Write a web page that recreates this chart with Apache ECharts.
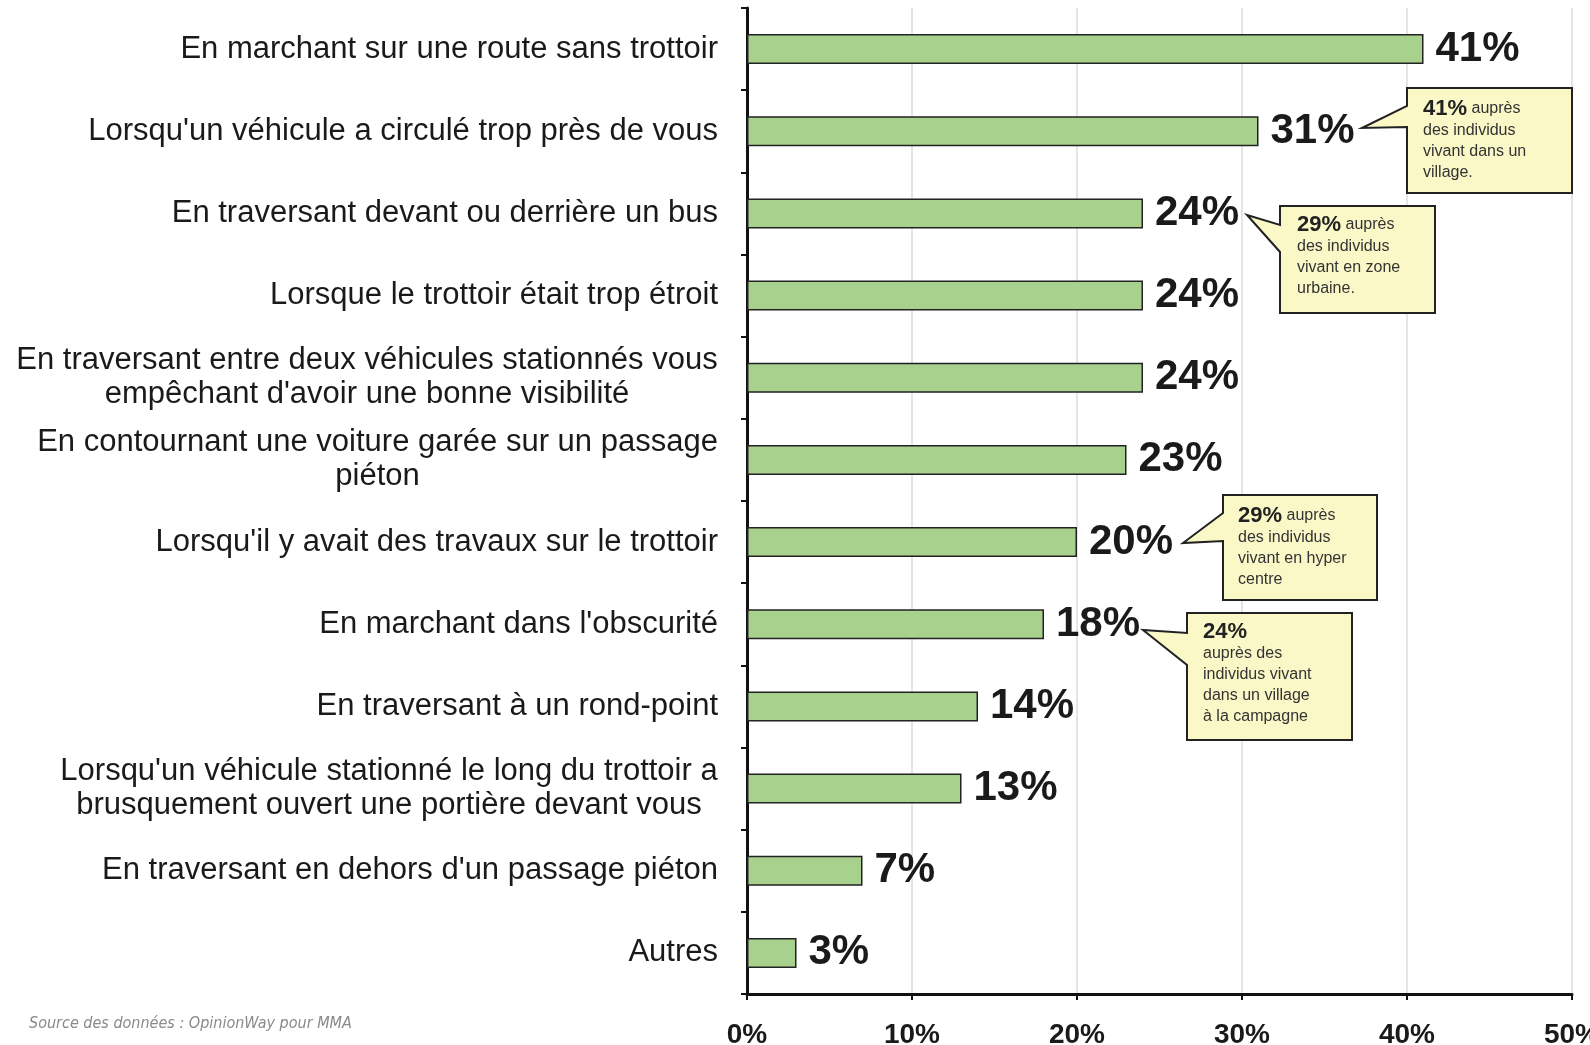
<!DOCTYPE html>
<html>
<head>
<meta charset="utf-8">
<script src="https://cdn.jsdelivr.net/npm/echarts@6/dist/echarts.min.js"></script>
<style>
  html, body { margin: 0; padding: 0; background: #fff; }
  #chart { width: 1590px; height: 1045px; }
</style>
</head>
<body>
<div id="chart"></div>
<script>
var categories = [
  'En marchant sur une route sans trottoir',
  "Lorsqu'un véhicule a circulé trop près de vous",
  'En traversant devant ou derrière un bus',
  'Lorsque le trottoir était trop étroit',
  'En traversant entre deux véhicules stationnés vous\nempêchant d\'avoir une bonne visibilité',
  'En contournant une voiture garée sur un passage\npiéton',
  "Lorsqu'il y avait des travaux sur le trottoir",
  "En marchant dans l'obscurité",
  'En traversant à un rond-point',
  "Lorsqu'un véhicule stationné le long du trottoir a\nbrusquement ouvert une portière devant vous",
  "En traversant en dehors d'un passage piéton",
  'Autres'
];
var values = [41, 31, 24, 24, 24, 23, 20, 18, 14, 13, 7, 3];
var xTicks = [0, 10, 20, 30, 40, 50];

// callouts: bold figure + remaining lines
var callouts = [
  { big: '41%', first: ' auprès', lines: ['des individus', 'vivant dans un', 'village.'],
    box: [1407, 88, 1572, 193], tip: [1362, 128], base: [106, 127], text: [1423, 98] },
  { big: '29%', first: ' auprès', lines: ['des individus', 'vivant en zone', 'urbaine.'],
    box: [1280, 206, 1435, 313], tip: [1247, 215], base: [225, 252], text: [1297, 214] },
  { big: '29%', first: ' auprès', lines: ['des individus', 'vivant en hyper', 'centre'],
    box: [1223, 495, 1377, 600], tip: [1183, 543], base: [513, 541], text: [1238, 505] },
  { big: '24%', first: '', lines: ['auprès des', 'individus vivant', 'dans un village', 'à la campagne'],
    box: [1187, 613, 1352, 740], tip: [1143, 630], base: [633, 665], text: [1203, 621] }
];

var labelFont = 'Liberation Sans, Arial, sans-serif';
var labelSize = 31;

// multi-line category labels are centred inside their own block
var ctx = document.createElement('canvas').getContext('2d');
ctx.font = labelSize + 'px ' + labelFont;
var labelRich = {};
var labelKey = {};
categories.forEach(function (c, i) {
  var parts = c.split('\n');
  if (parts.length > 1) {
    var w = 0;
    parts.forEach(function (p) { w = Math.max(w, ctx.measureText(p).width); });
    labelRich['c' + i] = { width: Math.ceil(w), align: 'center', fontSize: labelSize, lineHeight: 34,
      fontFamily: labelFont, color: '#1a1a1a' };
    labelKey[c] = 'c' + i;
  }
});

var chart = echarts.init(document.getElementById('chart'));

var graphics = [];
callouts.forEach(function (c) {
  var b = c.box;
  graphics.push({
    type: 'polygon',
    shape: { points: [[b[0], b[1]], [b[2], b[1]], [b[2], b[3]], [b[0], b[3]],
      [b[0], c.base[1]], c.tip, [b[0], c.base[0]]] },
    style: { fill: '#fbf8c8', stroke: '#222', lineWidth: 2 },
    z: 10
  });
  var txt = '{b|' + c.big + '}' + (c.first ? '{n|' + c.first + '}' : '');
  c.lines.forEach(function (l) { txt += '\n{n|' + l + '}'; });
  graphics.push({
    type: 'text',
    left: c.text[0], top: c.text[1],
    z: 11,
    style: {
      text: txt,
      fill: '#333',
      fontFamily: labelFont,
      rich: {
        b: { fontSize: 22, fontWeight: 'bold', fill: '#222', lineHeight: 22, fontFamily: labelFont },
        n: { fontSize: 16, fill: '#333', lineHeight: 21, fontFamily: labelFont }
      }
    }
  });
});
graphics.push({
  type: 'text',
  left: 29, top: 1016,
  style: {
    text: 'Source des données : OpinionWay pour MMA',
    fill: '#8a8a8a',
    fontSize: 16,
    fontStyle: 'italic',
    fontFamily: 'Liberation Sans Narrow, DejaVu Sans Condensed, sans-serif'
  }
});

var option = {
  animation: false,
  backgroundColor: '#fff',
  grid: { left: 747, right: 18, top: 8, bottom: 51, outerBoundsMode: 'none', containLabel: false },
  xAxis: {
    type: 'value',
    min: xTicks[0],
    max: xTicks[xTicks.length - 1],
    interval: 10,
    axisLine: { show: true, lineStyle: { color: '#111', width: 3 } },
    axisTick: { show: true, length: 6, lineStyle: { color: '#111', width: 2 } },
    axisLabel: {
      formatter: '{value}%',
      fontSize: 28, fontWeight: 'bold', color: '#1a1a1a', margin: 27,
      fontFamily: labelFont
    },
    splitLine: { show: true, lineStyle: { color: '#dcdcdc', width: 1.5 } }
  },
  yAxis: {
    type: 'category',
    inverse: true,
    data: categories,
    axisLine: { show: true, lineStyle: { color: '#111', width: 3 } },
    axisTick: { show: true, length: 6, lineStyle: { color: '#111', width: 2 } },
    axisLabel: {
      fontSize: labelSize, color: '#1a1a1a', margin: 29, lineHeight: 34,
      fontFamily: labelFont,
      formatter: function (v) {
        var k = labelKey[v];
        if (!k) return v;
        return v.split('\n').map(function (p) { return '{' + k + '|' + p + '}'; }).join('\n');
      },
      rich: labelRich
    }
  },
  series: [{
    type: 'bar',
    data: values,
    barWidth: 30,
    itemStyle: { color: '#a9d18e', borderColor: '#222', borderWidth: 1.5 },
    label: {
      show: true,
      position: 'right',
      distance: 12,
      formatter: '{c}%',
      fontSize: 42, fontWeight: 'bold', color: '#1a1a1a',
      fontFamily: labelFont
    }
  }],
  graphic: graphics
};
chart.setOption(option);
</script>
</body>
</html>
